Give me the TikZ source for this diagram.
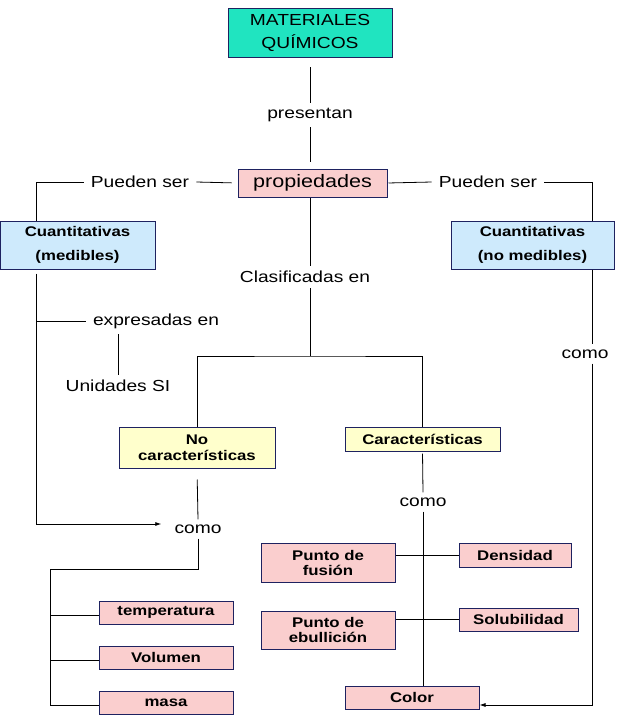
\documentclass[tikz,border=0pt]{standalone}
\usepackage{fontspec}
\setmainfont{Liberation Sans}[FakeStretch=1.2]
\usepackage{tikz}
\usetikzlibrary{arrows.meta}
\definecolor{navyline}{RGB}{30,34,96}
\definecolor{tealfill}{RGB}{32,228,192}
\definecolor{pinkfill}{RGB}{250,206,206}
\definecolor{bluefill}{RGB}{206,234,252}
\definecolor{yellowfill}{RGB}{255,255,204}

\begin{document}
\begin{tikzpicture}[x=1pt,y=-1pt,
  concept/.style={draw=navyline,line width=1pt,align=center,inner sep=0pt,font=\bfseries\fontsize{14}{15}\selectfont},
  pinkbox/.style={concept,fill=pinkfill},
  bluebox/.style={concept,fill=bluefill,font=\bfseries\fontsize{14}{24}\selectfont},
  yellowbox/.style={concept,fill=yellowfill,font=\bfseries\fontsize{14}{16}\selectfont},
  linkword/.style={inner xsep=7pt,inner ysep=5pt,font=\fontsize{16}{18}\selectfont},
  link/.style={line width=0.8pt},
  arrowlink/.style={link,-{Latex[length=6pt,width=4pt]}}]
\useasboundingbox (0,0) rectangle (620,721);

\node[concept,fill=tealfill,minimum width=164pt,minimum height=49pt,font=\fontsize{16}{23}\selectfont] (mat) at (310,33) {MATERIALES\\QUÍMICOS};
\node[linkword] (pres) at (310,115) {presentan};
\node[pinkbox,minimum width=149pt,minimum height=28pt,font=\fontsize{18}{20}\selectfont] (prop) at (312.5,183) {propiedades};

\node[linkword] (puedenL) at (140,182) {Pueden ser};
\node[linkword] (puedenR) at (488,182) {Pueden ser};
\node[bluebox,minimum width=155pt,minimum height=48pt] (cuantM) at (77.5,245) {Cuantitativas\\(medibles)};
\node[bluebox,minimum width=163pt,minimum height=48pt] (cuantN) at (532.5,245) {Cuantitativas\\(no medibles)};

\node[linkword] (clas) at (305,277) {Clasificadas en};
\coordinate (split) at (310,356);
\node[yellowbox,minimum width=156pt,minimum height=41pt] (nocar) at (197,447.5) {No\\características};
\node[yellowbox,minimum width=155pt,minimum height=24pt] (car) at (422.5,439) {Características};

\node[linkword] (expr) at (156,321) {expresadas en};
\node[linkword] (unid) at (118,386) {Unidades SI};
\node[linkword] (como3) at (585,354) {como};
\node[linkword] (como1) at (198,529) {como};
\node[linkword] (como2) at (423,502) {como};

\node[pinkbox,minimum width=134pt,minimum height=23pt] (temp) at (166,612.5) {temperatura};
\node[pinkbox,minimum width=134pt,minimum height=23pt] (vol) at (166,657.5) {Volumen};
\node[pinkbox,minimum width=134pt,minimum height=23pt] (masa) at (166,702.5) {masa};

\node[pinkbox,minimum width=134pt,minimum height=39pt] (pf) at (328,562.5) {Punto de\\fusión};
\node[pinkbox,minimum width=134pt,minimum height=38pt] (pe) at (328,630) {Punto de\\ebullición};
\node[pinkbox,minimum width=112pt,minimum height=24pt] (dens) at (515,555) {Densidad};
\node[pinkbox,minimum width=119pt,minimum height=23pt] (sol) at (518.5,619.5) {Solubilidad};
\node[pinkbox,minimum width=134pt,minimum height=23pt] (color) at (412,697.5) {Color};

\coordinate (lbus) at ([xshift=-41.5pt]cuantM.south);
\coordinate (rbus) at ([xshift=59.5pt]cuantN.south);
\coordinate (bbus) at (50,569);

\draw[link,shorten <=9pt] (mat.south) -- (pres.north);
\draw[link,shorten >=7pt] (pres.south) -- (pres.south |- prop.north);
\draw[link,shorten <=6pt] (prop.west) -- (puedenL.east);
\draw[link] (puedenL.west) -| ([xshift=-41.5pt]cuantM.north);
\draw[link,shorten <=1pt] (prop.east) -- (puedenR.west);
\draw[link] (puedenR.east) -| ([xshift=59.5pt]cuantN.north);

\draw[link] (prop.south -| split) -- (split |- clas.north);
\draw[link] (clas.south -| split) -- (split);
\draw[link] (nocar.north) |- (split) -| (car.north);

\draw[link,shorten <=4pt] (lbus) -- (lbus |- expr.west);
\draw[link] (expr.west) -- (expr.west -| lbus);
\draw[link] (unid.north) -- (unid.north |- expr.south);
\draw[arrowlink] (lbus |- expr.west) |- ([xshift=-6pt,yshift=5pt]como1.west);

\draw[link] (rbus) -- (rbus |- como3.north);
\draw[arrowlink] (rbus |- como3.south) |- ([yshift=-7.5pt]color.east);

\draw[link,shorten <=11pt] (nocar.south) -- (como1.north);
\draw[link] (como1.south) |- (bbus) -- ([yshift=-3pt]bbus |- masa.west);
\foreach \leaf in {temp,vol,masa}
  \draw[link] ([yshift=-3pt]\leaf.west) -- ([yshift=-3pt]\leaf.west -| bbus);

\draw[link,shorten <=2pt] (car.south) -- (como2.north);
\draw[link] (como2.south) -- (como2.south |- color.north);
\draw[link] (pf.east |- dens.west) -- (dens.west);
\draw[link] (pe.east |- sol.west) -- (sol.west);

\end{tikzpicture}
\end{document}
